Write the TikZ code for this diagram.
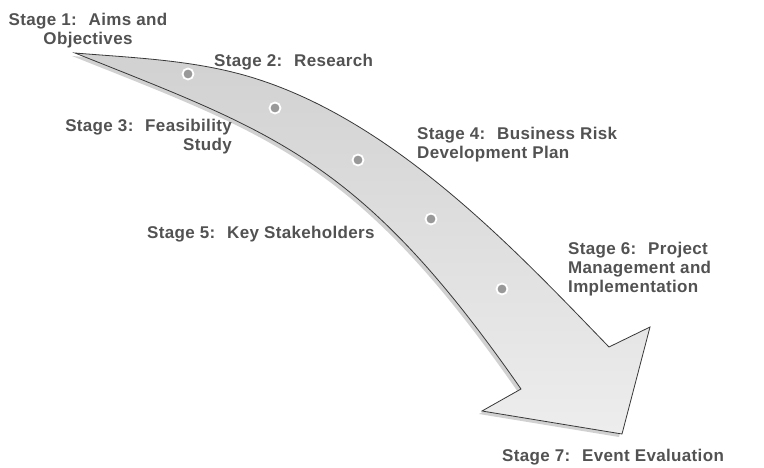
\documentclass[tikz,border=0pt]{standalone}
\usepackage{fontspec}
\newfontfamily\stagefont{Liberation Sans}[LetterSpace=2]
\usetikzlibrary{positioning,shadows}
\definecolor{stagegray}{HTML}{525252}

\begin{document}
\begin{tikzpicture}[x=1pt,y=-1pt]
\tikzset{stage/.style={font=\stagefont\bfseries\fontsize{17}{19}\selectfont, text=stagegray, inner sep=0pt},
         spot/.style={circle, fill=black!40, draw=white, line width=1.8pt, minimum size=11pt, inner sep=0pt},
         bigarrow/.style={draw=black!78, line width=0.8pt, top color=black!18, bottom color=black!7,
                          drop shadow={shadow xshift=-3pt, shadow yshift=-3pt, opacity=.18, fill=black}}}
\useasboundingbox (0,0) rectangle (764,468);

% curved arrow
\path[bigarrow] (75,53) .. controls (135,58) and (200,60) .. (260,80)
      .. controls (400,126) and (519,254) .. (609,347)
      -- (650,327) -- (622,434) -- (482,411) -- (521,389)
      .. controls (361,159) and (275,133) .. (75,53) -- cycle;

% stage dots
\node[spot] (d1) at (188,74) {};
\node[spot] (d2) at (275,108) {};
\node[spot] (d3) at (358,160) {};
\node[spot] (d4) at (431,219) {};
\node[spot] (d5) at (502,289) {};

% stage labels
\node[stage, anchor=north, align=center] (s1) at (88,13) {Stage 1:~ Aims and\\Objectives};
\node[stage, anchor=north west] (s2) at (214,54) {Stage 2:~ Research};
\node[stage, anchor=north east, align=right] (s3) at (232,119) {Stage 3:~ Feasibility\\Study};
\node[stage, anchor=north west, align=left] (s4) at (417,127) {Stage 4:~ Business Risk\\Development Plan};
\node[stage, anchor=north west] (s5) at (147,226) {Stage 5:~ Key Stakeholders};
\node[stage, anchor=north west, align=left] (s6) at (568,242) {Stage 6:~ Project\\Management and\\Implementation};
\node[stage, anchor=north west] (s7) at (502,449) {Stage 7:~ Event Evaluation};
\end{tikzpicture}
\end{document}
